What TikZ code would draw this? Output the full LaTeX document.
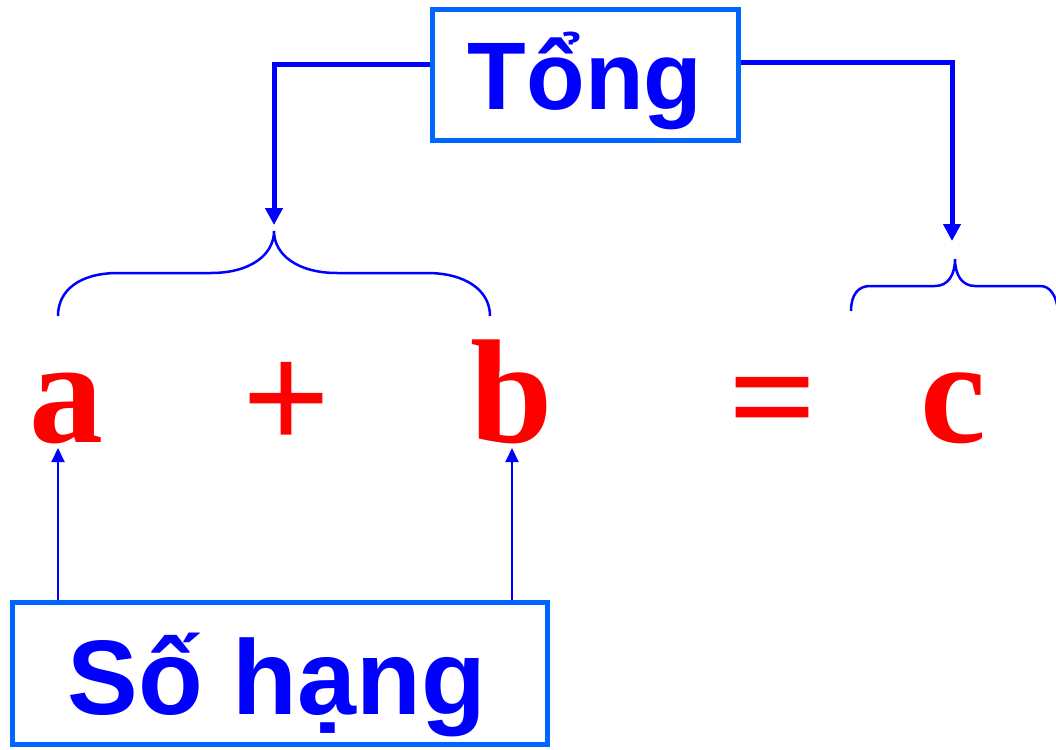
\documentclass[tikz,border=0pt]{standalone}
\usepackage{fontspec}
\newfontfamily\arialbf{Liberation Sans}[BoldFont={* Bold}]
\newfontfamily\tnrbf{Liberation Serif}[BoldFont={* Bold}]
\newfontfamily\tnrop{Liberation Serif}[FakeBold=2]
\usetikzlibrary{arrows.meta}
\definecolor{txtblue}{HTML}{0000FF}
\definecolor{boxblue}{HTML}{0066FF}
\definecolor{mathred}{HTML}{FF0000}
\tikzset{
  labelbox/.style={draw=boxblue, line width=5pt, rectangle, inner sep=0pt},
  boxtext/.style={text=txtblue, inner sep=0pt, anchor=base},
  mathsym/.style={text=mathred, inner sep=0pt, anchor=base, font=\tnrbf\bfseries\fontsize{148}{150}\selectfont},
  mathop/.style={text=mathred, inner sep=0pt, anchor=base, font=\tnrop\fontsize{150}{150}\selectfont},
  bigarrow/.style={draw=txtblue, line width=5pt, -{Triangle[length=17pt,width=17pt]}},
  smallarrow/.style={draw=txtblue, line width=2pt, -{Triangle[length=14pt,width=13pt]}},
  bracecurve/.style={draw=txtblue, line width=2.5pt},
}
\begin{document}
\begin{tikzpicture}[x=1pt,y=-1pt]
\useasboundingbox (0,0) rectangle (1056,749);
\clip (0,0) rectangle (1056,749);
% boxes
\node[labelbox, minimum width=306pt, minimum height=131pt] (tong) at (585.5,75) {};
\node[boxtext, font=\arialbf\bfseries\fontsize{96}{100}\selectfont] (tongtext) at (585,110) {Tổng};
\node[labelbox, minimum width=535pt, minimum height=142pt] (sohang) at (280,673.5) {};
\node[boxtext, font=\arialbf\bfseries\fontsize{106}{110}\selectfont] (sohangtext) at (277,714) {Số hạng};
% expression
\node[mathsym] (a) at (66,442) {a};
\node[mathop] (plus) at (286,448) {+};
\node[mathsym] (b) at (512,442) {b};
\node[mathop] (eq) at (772,447) {=};
\node[mathsym] (c) at (953,442) {c};
% braces
\draw[bracecurve] (58,316) .. controls (58,290) and (80,273) .. (118,273) -- (211,273)
  .. controls (250,273) and (274,255) .. (274,231)
  .. controls (274,255) and (298,273) .. (337,273) -- (427,273)
  .. controls (465,273) and (490,290) .. (490,316);
\draw[bracecurve] (851,311) .. controls (851,295) and (858,286) .. (870,286) -- (935,286)
  .. controls (948,286) and (955,275) .. (955,259)
  .. controls (955,275) and (962,286) .. (975,286) -- (1040,286)
  .. controls (1050,286) and (1056,295) .. (1058,310);
% connectors
\coordinate (ltip) at (274,225);
\coordinate (rtip) at (952,241);
\draw[bigarrow] ([yshift=10pt]tong.west) -| (ltip);
\draw[bigarrow] ([yshift=12pt]tong.east) -| (rtip);
\coordinate (atip) at (58,448);
\coordinate (btip) at (512,448);
\draw[smallarrow] (sohang.north -| atip) -- (atip);
\draw[smallarrow] (sohang.north -| btip) -- (btip);
\end{tikzpicture}
\end{document}
